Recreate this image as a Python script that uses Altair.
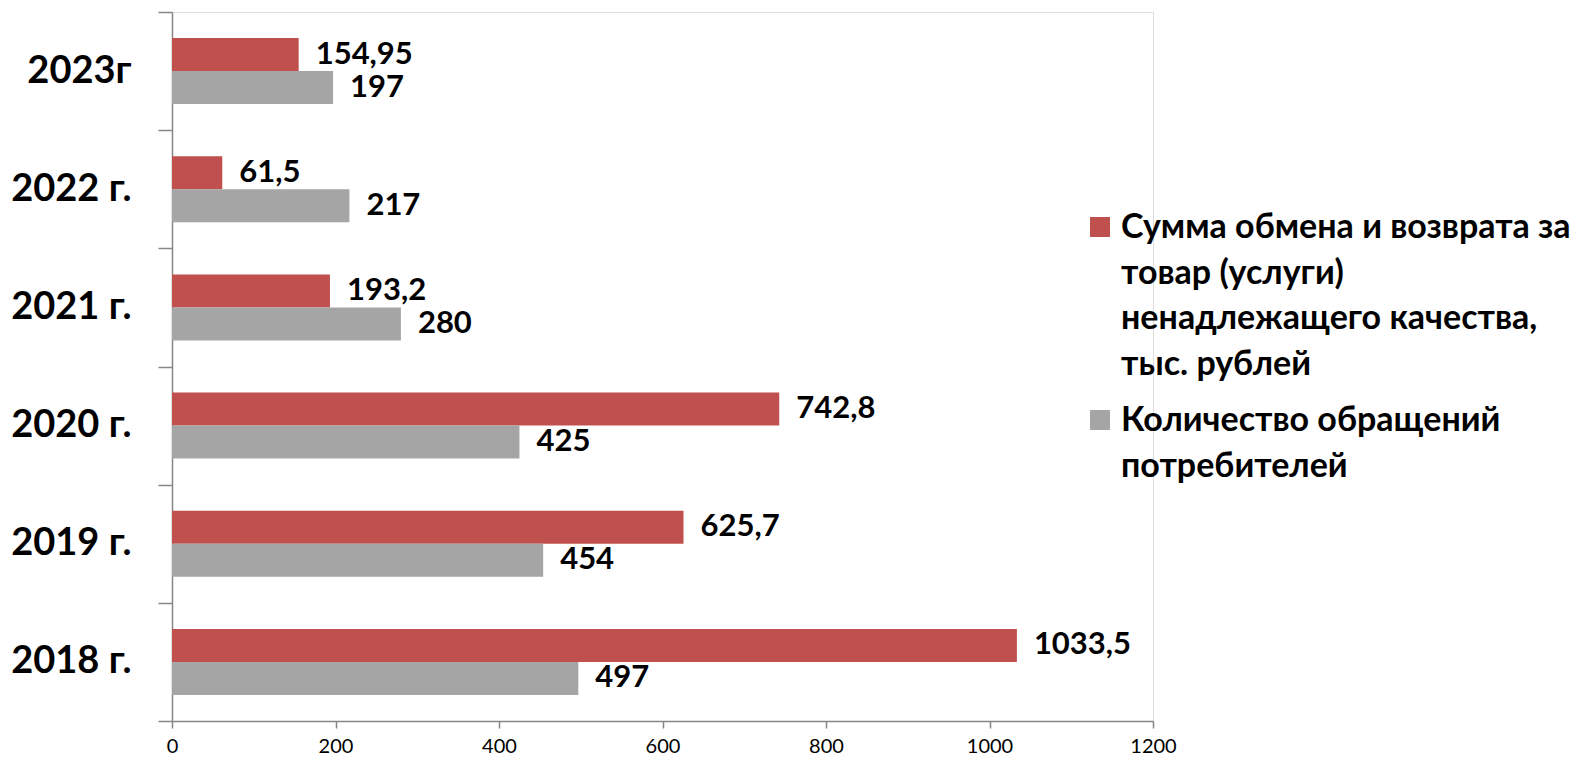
import altair as alt
import pandas as pd

years = ["2023г", "2022 г.", "2021 г.", "2020 г.", "2019 г.", "2018 г."]
sums = [154.95, 61.5, 193.2, 742.8, 625.7, 1033.5]
counts = [197, 217, 280, 425, 454, 497]
series = [
    "Сумма обмена и возврата за|товар (услуги)|ненадлежащего качества,|тыс. рублей",
    "Количество обращений|потребителей",
]
colors = ["#C0504D", "#A5A5A5"]
x_ticks = [0, 200, 400, 600, 800, 1000, 1200]


def fmt(v):
    s = ("%g" % v).replace(".", ",")
    return s


rows = []
for y, s, c in zip(years, sums, counts):
    rows.append({"year": y, "series": series[0], "value": s, "label": fmt(s)})
    rows.append({"year": y, "series": series[1], "value": c, "label": fmt(c)})
df = pd.DataFrame(rows)

FONT = "Lato"
DY = -16

base = alt.Chart(df).encode(
    y=alt.Y(
        "year:N",
        sort=years,
        scale=alt.Scale(paddingInner=0, paddingOuter=0),
        axis=alt.Axis(
            title=None,
            domainColor="#868686",
            domainWidth=1.5,
            tickColor="#868686",
            tickWidth=1.5,
            tickSize=14,
            tickBand="extent",
            labelFont=FONT,
            labelFontSize=38,
            labelFontWeight="bold",
            labelColor="#000000",
            labelPadding=27,
            labelOffset=-DY,
        ),
    ),
    yOffset=alt.YOffset(
        "series:N",
        sort=series,
        scale=alt.Scale(paddingInner=0, paddingOuter=0.79),
    ),
    x=alt.X(
        "value:Q",
        scale=alt.Scale(domain=[0, 1200], nice=False, zero=True),
        axis=alt.Axis(
            title=None,
            values=x_ticks,
            format="d",
            grid=False,
            domainColor="#868686",
            domainWidth=1.5,
            tickColor="#868686",
            tickWidth=1.5,
            tickSize=7,
            labelFont=FONT,
            labelFontSize=20,
            labelColor="#000000",
            labelPadding=8 - DY,
            labelFlush=False,
            labelOverlap=False,
        ),
    ),
)

bars = base.mark_bar().encode(
    color=alt.Color(
        "series:N",
        sort=series,
        scale=alt.Scale(domain=series, range=colors),
        legend=alt.Legend(
            title=None,
            orient="none",
            legendX=911,
            legendY=198,
            symbolType="square",
            symbolSize=400,
            symbolStrokeWidth=0,
            labelFont=FONT,
            labelFontSize=34,
            labelFontWeight="bold",
            labelColor="#000000",
            labelLimit=1000,
            labelOffset=4,
            labelBaseline="top",
            rowPadding=21,
            labelExpr="split(datum.label, '|')",
        ),
    )
)

text = base.mark_text(
    align="left",
    baseline="middle",
    dx=17,
    font=FONT,
    fontSize=31,
    fontWeight="bold",
    color="#000000",
).encode(text="label:N")

chart = (
    alt.layer(bars, text)
    .properties(
        width=981,
        height=709,
        autosize=alt.AutoSizeParams(type="none"),
        padding={"left": 164, "top": 4, "right": 427, "bottom": 36},
    )
    .configure_view(stroke=None)
    .configure(
        background="#ffffff",
        style={"guide-label": {"lineHeight": 45.6, "dy": DY}},
    )
)

chart.save("out.html", embed_options={"renderer": "svg", "actions": False})
